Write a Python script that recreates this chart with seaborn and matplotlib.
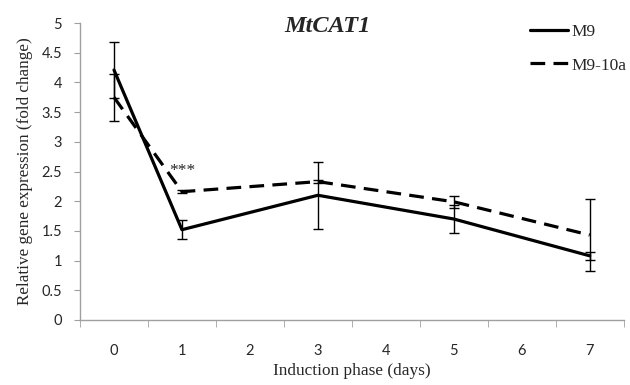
import numpy as np
import pandas as pd
import matplotlib
matplotlib.use("Agg")
import matplotlib.pyplot as plt
import seaborn as sns
from matplotlib.lines import Line2D

days = [0, 1, 3, 5, 7]
day_labels = ["0", "1", "2", "3", "4", "5", "6", "7"]
m9 = [4.21, 1.52, 2.10, 1.70, 1.08]
m9_err = [0.47, 0.16, 0.56, 0.24, 0.07]
m910a = [3.75, 2.16, 2.33, 1.99, 1.43]
m910a_err = [0.40, 0.03, 0.02, 0.10, 0.60]
series = ["M9", "M9-10a"]

df = pd.DataFrame({
    "day": days * 2,
    "value": m9 + m910a,
    "err": m9_err + m910a_err,
    "line": [series[0]] * len(days) + [series[1]] * len(days),
})

sns.set_style("white")
serif = ["Liberation Serif", "DejaVu Serif"]
dash = (4.6, 2.6)

fig = plt.figure(figsize=(6.3, 3.85), dpi=100)
ax = fig.add_axes([0.127, 0.169, 0.863, 0.771])

sns.lineplot(data=df, x="day", y="value", style="line",
             dashes={"M9": "", "M9-10a": dash}, color="black",
             linewidth=2.3, ax=ax, legend=False, sort=False)

for name in series:
    sub = df[df["line"] == name]
    ax.errorbar(sub["day"], sub["value"], yerr=sub["err"], fmt="none",
                ecolor="black", elinewidth=1, capsize=3.5, capthick=1)

ax.text(1, 2.38, "***", ha="center", va="bottom", fontsize=12.5,
        family=serif)

ax.set_xlim(-0.5, 7.5)
ax.set_ylim(0, 5)
ax.set_xticks(range(len(day_labels)))
ax.set_xticklabels(day_labels)
ax.set_xticks(np.arange(-0.5, 8, 1), minor=True)
ax.tick_params(axis="x", which="major", length=0, pad=17, labelsize=10.5)
ax.tick_params(axis="x", which="minor", length=5, color="#a0a0a0",
               direction="out", bottom=True)
ax.set_yticks(np.arange(0, 5.01, 0.5))
ax.set_yticklabels([f"{v:g}" for v in np.arange(0, 5.01, 0.5)])
ax.tick_params(axis="y", length=4, color="#a0a0a0", direction="out",
               left=True, labelsize=10.5, pad=9)
for lab in ax.get_xticklabels() + ax.get_yticklabels():
    lab.set_family(["Lato", "DejaVu Sans"])

for s in ["top", "right"]:
    ax.spines[s].set_visible(False)
for s in ["left", "bottom"]:
    ax.spines[s].set_color("#a0a0a0")
    ax.spines[s].set_linewidth(1)

ax.set_xlabel("Induction phase (days)", family=serif, fontsize=12.4,
              labelpad=4)
ax.set_ylabel("Relative gene expression (fold change)", family=serif,
              fontsize=12.3, labelpad=6)
fig.text(0.519, 0.932, "MtCAT1", family=serif, fontsize=17.5,
         fontweight="bold", style="italic", ha="center", va="center")

handles = [Line2D([], [], color="black", lw=2.3, ls="-"),
           Line2D([], [], color="black", lw=2.3, ls=(0, dash))]
fig.legend(handles, series, loc="upper left", bbox_to_anchor=(0.830, 0.956),
           frameon=False, prop={"family": serif, "size": 12.5},
           handlelength=2.2, handletextpad=0.2, labelspacing=1.0,
           borderaxespad=0)

fig.savefig("out.png", dpi=100)
